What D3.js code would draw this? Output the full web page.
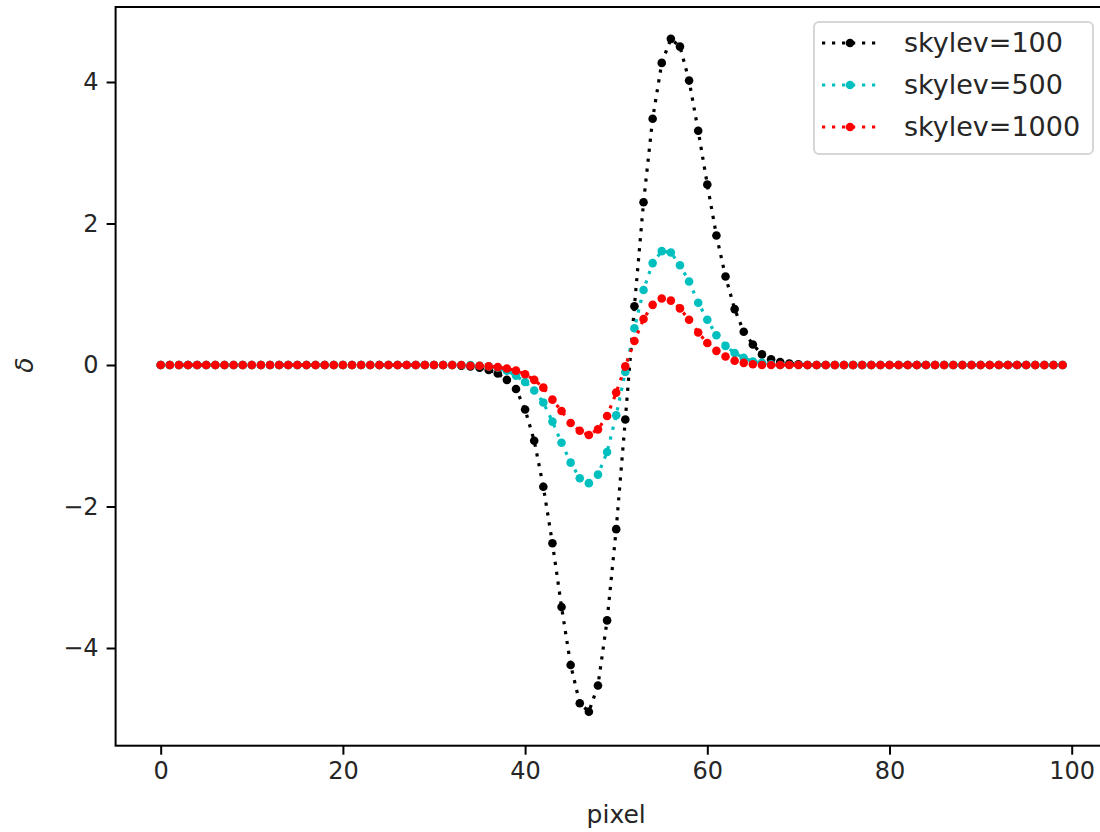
<!DOCTYPE html>
<html>
<head>
<meta charset="utf-8">
<script src="https://cdn.jsdelivr.net/npm/d3@7"></script>
<style>
  body { margin: 0; overflow: hidden; background: #fff; }
  text { font-family: "DejaVu Sans", sans-serif; }
</style>
</head>
<body>
<script>
// delta per pixel for three sky levels
var pixels = d3.range(0, 100);

var sky100 = [
  0, 0, 0, 0, 0, 0, 0, 0, 0, 0,
  0, 0, 0, 0, 0, 0, 0, 0, 0, 0,
  0, 0, 0, 0, 0, 0, 0, 0, 0, 0,
  0, 0, 0, -0.01, -0.02, -0.04, -0.07, -0.12, -0.21, -0.34,
  -0.63, -1.07, -1.72, -2.52, -3.42, -4.24, -4.78, -4.90, -4.53, -3.61,
  -2.32, -0.77, 0.83, 2.30, 3.48, 4.27, 4.61, 4.50, 4.02, 3.31,
  2.55, 1.83, 1.25, 0.79, 0.47, 0.29, 0.15, 0.08, 0.04, 0.02,
  0.01, 0, 0, 0, 0, 0, 0, 0, 0, 0,
  0, 0, 0, 0, 0, 0, 0, 0, 0, 0,
  0, 0, 0, 0, 0, 0, 0, 0, 0, 0
];

var sky500 = [
  0, 0, 0, 0, 0, 0, 0, 0, 0, 0,
  0, 0, 0, 0, 0, 0, 0, 0, 0, 0,
  0, 0, 0, 0, 0, 0, 0, 0, 0, 0,
  0, 0, 0, 0, 0, -0.01, -0.02, -0.04, -0.08, -0.15,
  -0.24, -0.36, -0.53, -0.80, -1.10, -1.38, -1.60, -1.67, -1.55, -1.23,
  -0.71, -0.10, 0.52, 1.06, 1.44, 1.61, 1.59, 1.41, 1.18, 0.88,
  0.64, 0.42, 0.27, 0.17, 0.10, 0.05, 0.03, 0.01, 0, 0,
  0, 0, 0, 0, 0, 0, 0, 0, 0, 0,
  0, 0, 0, 0, 0, 0, 0, 0, 0, 0,
  0, 0, 0, 0, 0, 0, 0, 0, 0, 0
];

var sky1000 = [
  0, 0, 0, 0, 0, 0, 0, 0, 0, 0,
  0, 0, 0, 0, 0, 0, 0, 0, 0, 0,
  0, 0, 0, 0, 0, 0, 0, 0, 0, 0,
  0, 0, 0, 0, -0.01, -0.01, -0.02, -0.03, -0.05, -0.08,
  -0.13, -0.21, -0.32, -0.49, -0.65, -0.82, -0.93, -0.99, -0.91, -0.72,
  -0.39, -0.02, 0.34, 0.65, 0.85, 0.94, 0.91, 0.80, 0.64, 0.46,
  0.31, 0.20, 0.12, 0.06, 0.03, 0.01, 0, 0, 0, 0,
  0, 0, 0, 0, 0, 0, 0, 0, 0, 0,
  0, 0, 0, 0, 0, 0, 0, 0, 0, 0,
  0, 0, 0, 0, 0, 0, 0, 0, 0, 0
];

var seriesNames = ['skylev=100', 'skylev=500', 'skylev=1000'];
var seriesColors = ['#000000', '#00bfbf', '#ff0000'];
var xTicks = [0, 20, 40, 60, 80, 100];
var yTicks = [-4, -2, 0, 2, 4];

var width = 1100,
    height = 832;

// plot box (right edge falls just outside the picture)
var boxL = 115.6, boxR = 1107.7, boxT = 7, boxB = 745.7;

var svg = d3.select('body').append('svg')
    .attr('width', width)
    .attr('height', height);

var x = d3.scaleLinear().domain([-4.95, 103.95]).range([boxL, boxR]);
var y = d3.scaleLinear().domain([-5.381, 5.06]).range([boxB, boxT]);

var fmt = function(d){ return d < 0 ? '\u2212' + Math.abs(d) : '' + d; };

// axes
var xAxis = svg.append('g')
    .attr('transform', 'translate(0,' + boxB + ')')
    .call(d3.axisBottom(x).tickValues(xTicks).tickSize(9).tickPadding(7).tickFormat(fmt));
var yAxis = svg.append('g')
    .attr('transform', 'translate(' + boxL + ',0)')
    .call(d3.axisLeft(y).tickValues(yTicks).tickSize(9).tickPadding(8).tickFormat(fmt));

[xAxis, yAxis].forEach(function(g){
  g.select('.domain').remove();
  g.selectAll('.tick line').attr('stroke', '#000').attr('stroke-width', 2);
  g.selectAll('.tick text').attr('fill', '#262626').style('font-size', '24px')
    .style('font-family', '"DejaVu Sans", sans-serif');
});

// series
var allSeries = [sky100, sky500, sky1000];
var line = d3.line()
    .x(function(d, i){ return x(pixels[i]); })
    .y(function(d){ return y(d); });

allSeries.forEach(function(vals, k){
  svg.append('path')
    .datum(vals)
    .attr('d', line)
    .attr('fill', 'none')
    .attr('stroke', seriesColors[k])
    .attr('stroke-width', 3.2)
    .attr('stroke-dasharray', '3.2,6.8');

  svg.append('g').selectAll('circle')
    .data(vals)
    .enter()
    .append('circle')
    .attr('cx', function(d, i){ return x(pixels[i]); })
    .attr('cy', function(d){ return y(d); })
    .attr('r', 4.3)
    .style('fill', seriesColors[k]);
});

// frame
svg.append('rect')
    .attr('x', boxL).attr('y', boxT)
    .attr('width', boxR - boxL).attr('height', boxB - boxT)
    .attr('fill', 'none').attr('stroke', '#000').attr('stroke-width', 2);

// labels
svg.append('text')
    .attr('x', x(50)).attr('y', 823)
    .attr('text-anchor', 'middle')
    .style('font-size', '25px').attr('fill', '#262626')
    .text('pixel');

svg.append('text')
    .attr('transform', 'translate(33,' + y(0) + ') rotate(-90)')
    .attr('text-anchor', 'middle')
    .style('font-size', '25px').style('font-style', 'italic').attr('fill', '#262626')
    .text('\u03b4');

// legend
var legend = svg.append('g');
legend.append('rect')
    .attr('x', 814).attr('y', 22).attr('width', 279).attr('height', 132)
    .attr('rx', 5)
    .attr('fill', '#fff').attr('fill-opacity', 0.8)
    .attr('stroke', '#d6d6d6').attr('stroke-width', 2);

var rows = legend.selectAll('g.row')
    .data(seriesNames)
    .enter()
    .append('g')
    .attr('transform', function(d, i){ return 'translate(0,' + (43 + i * 42) + ')'; });

rows.append('line')
    .attr('x1', 822).attr('x2', 878)
    .attr('stroke', function(d, i){ return seriesColors[i]; })
    .attr('stroke-width', 3.2)
    .attr('stroke-dasharray', '3.2,6.8');
rows.append('circle')
    .attr('cx', 850).attr('r', 4.3)
    .style('fill', function(d, i){ return seriesColors[i]; });
rows.append('text')
    .attr('x', 904).attr('dy', '0.35em')
    .style('font-size', '27px').attr('fill', '#262626')
    .text(function(d){ return d; });
</script>
</body>
</html>
